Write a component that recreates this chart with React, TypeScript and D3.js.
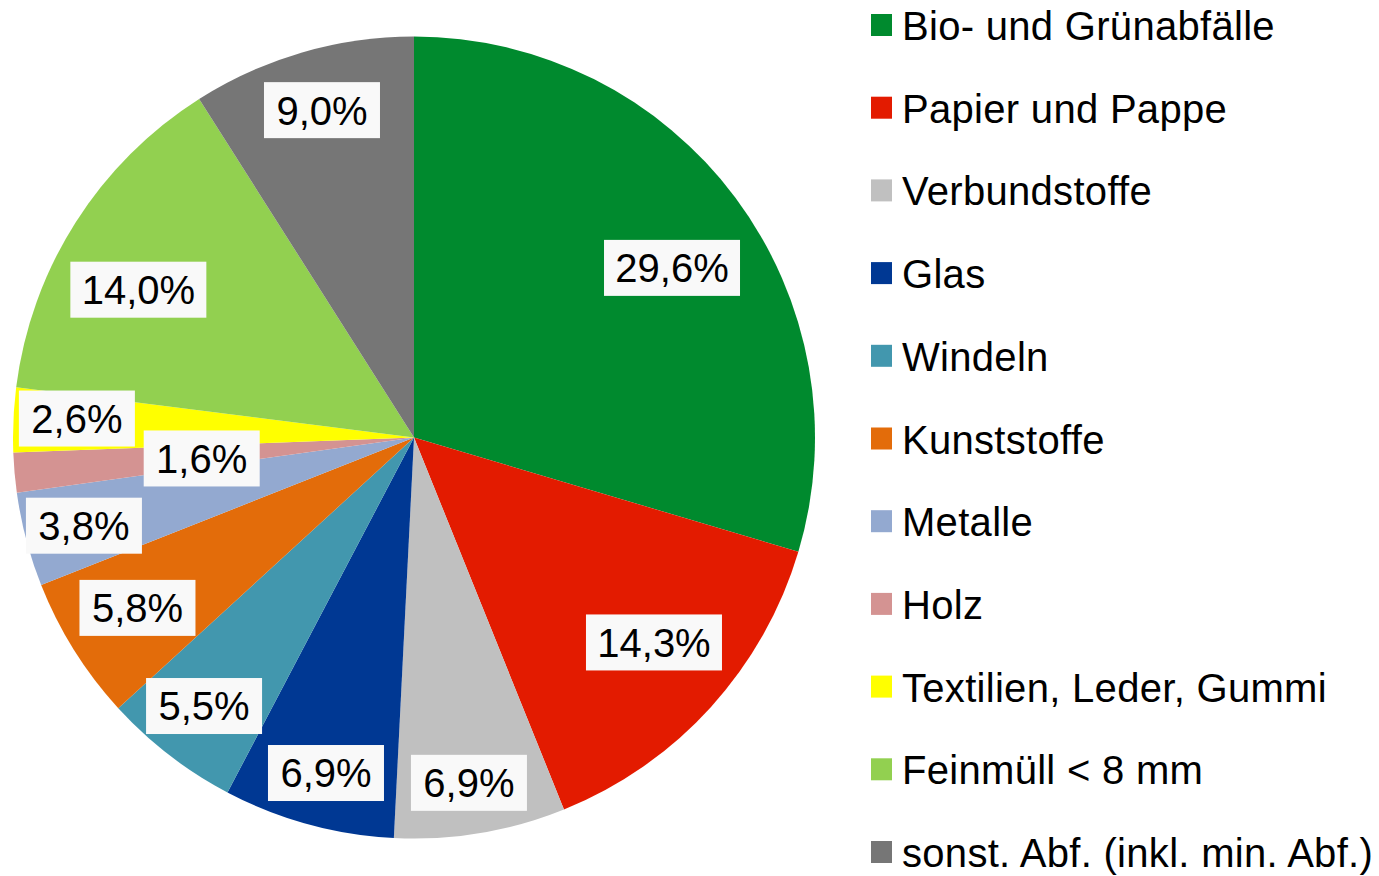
import React from "react";
import * as d3 from "d3";

const categories = [
  "Bio- und Grünabfälle",
  "Papier und Pappe",
  "Verbundstoffe",
  "Glas",
  "Windeln",
  "Kunststoffe",
  "Metalle",
  "Holz",
  "Textilien, Leder, Gummi",
  "Feinmüll < 8 mm",
  "sonst. Abf. (inkl. min. Abf.)",
];
const values = [29.6, 14.3, 6.9, 6.9, 5.5, 5.8, 3.8, 1.6, 2.6, 14.0, 9.0];
const valueLabels = ["29,6%", "14,3%", "6,9%", "6,9%", "5,5%", "5,8%", "3,8%", "1,6%", "2,6%", "14,0%", "9,0%"];
const colors = [
  "#008a2e", "#e31b00", "#c0c0c0", "#003893", "#4297ae", "#e36c0a",
  "#93a9d0", "#d49392", "#ffff00", "#92d050", "#767676",
];
// label placement (Excel best fit): share of radius, angle shift in degrees
const labelRadius = [0.77, 0.787, 0.872, 0.865, 0.85, 0.81, 0.852, 0.532, 0.842, 0.78, 0.848];
const labelShift = [3.4, -1.8, 0.5, -0.6, 0.4, 0.4, -0.2, -0.6, 0.7, -4.2, 0.5];

export default function App() {
  const width = 1379;
  const height = 876;
  const cx = 414;
  const cy = 437.5;
  const r = 401;

  const pie = d3.pie<number>().sort(null).value(d => d);
  const arcs = pie(values);
  const arc = d3.arc<d3.PieArcDatum<number>>().innerRadius(0).outerRadius(r);

  const legendX = 871;
  const legendY = 25;
  const legendStep = 82.7;

  return (
    <svg width={width} height={height} style={{ position: "absolute", left: 0, top: 0, fontFamily: "Liberation Sans, Arial, sans-serif" }}>
      <rect width={width} height={height} fill="#fff" />
      <g transform={`translate(${cx},${cy})`}>
        {arcs.map((a, i) => (
          <path key={i} d={arc(a) || ""} fill={colors[i]} />
        ))}
        {arcs.map((a, i) => {
          const lr = r * labelRadius[i];
          const shift = (labelShift[i] * Math.PI) / 180;
          const [x, y] = d3
            .arc<d3.PieArcDatum<number>>()
            .innerRadius(lr)
            .outerRadius(lr)
            .centroid({ ...a, startAngle: a.startAngle + shift, endAngle: a.endAngle + shift });
          const w = valueLabels[i].length === 5 ? 136 : 116;
          return (
            <g key={i} transform={`translate(${x},${y})`}>
              <rect x={-w / 2} y={-28} width={w} height={56} fill="#f9f9f9" />
              <text textAnchor="middle" dy="0.36em" fontSize={40} fill="#000">{valueLabels[i]}</text>
            </g>
          );
        })}
      </g>
      <g>
        {categories.map((c, i) => (
          <g key={i} transform={`translate(${legendX},${legendY + i * legendStep})`}>
            <rect x={0} y={-11} width={21} height={22} fill={colors[i]} />
            <text x={31} y={15} fontSize={40} letterSpacing={0.3} fill="#000">{c}</text>
          </g>
        ))}
      </g>
    </svg>
  );
}
